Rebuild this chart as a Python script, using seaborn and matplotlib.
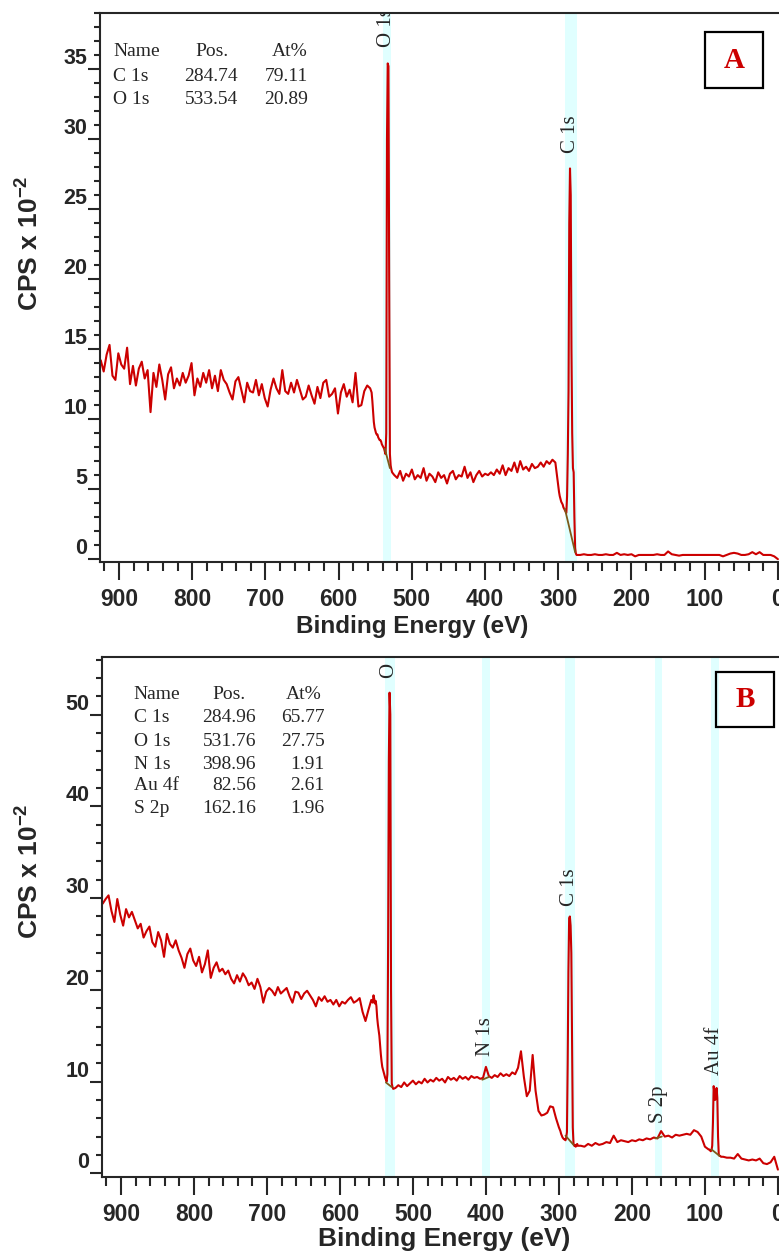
import numpy as np
import pandas as pd
import seaborn as sns
import matplotlib
import matplotlib.pyplot as plt
from matplotlib.patches import Rectangle
from matplotlib.ticker import MultipleLocator

matplotlib.use("Agg")

# ---------------- spectrum A (CPS x 10^-2)
a_wide = [14.2, 13.4, 14.6, 15.3, 13.1, 12.8, 14.7, 13.9, 13.6, 15.1,
          12.5, 13.8, 12.4, 13.6, 14.1, 12.9, 13.5, 10.5, 13.3, 12.3,
          13.9, 12.8, 11.4, 13.2, 13.7, 12.2, 12.9, 12.4, 13.3, 12.6,
          13.1, 14.0, 11.7, 12.9, 12.3, 13.3, 12.6, 13.5, 12.2, 13.1,
          12.0, 13.5, 12.8, 12.5, 11.9, 11.4, 12.7, 13.0, 12.1, 11.2,
          12.6, 12.0, 11.9, 12.8, 11.7, 12.5, 11.5, 10.9, 12.1, 12.9,
          12.2, 11.8, 13.5, 12.0, 11.8, 12.6, 11.9, 12.8, 12.1, 11.4,
          11.6, 12.4, 11.7, 11.1, 12.3, 11.5, 12.6, 12.8, 11.6, 11.8,
          12.2, 10.4, 11.9, 12.5, 11.6, 12.1, 11.2, 13.3, 10.9, 11.0,
          12.0, 12.4, 12.2]                      # 925 -> 557 eV
a_o1s = [11.9, 11.3, 10.5, 9.8, 9.4, 9.2, 9.0, 8.9, 8.9, 8.7,
         8.6, 8.5, 8.5, 8.4, 8.2, 8.1, 8.0, 7.9, 7.7, 7.5,
         9.0, 30.0, 35.4, 35.2, 20.0, 7.5, 6.7, 6.4, 6.2]   # 555 -> 527 eV
a_mid = [6.0, 5.8, 6.3, 5.6, 6.1, 5.9, 6.4, 5.7, 6.0, 5.8,
         6.5, 5.6, 6.1, 5.9, 5.5, 6.2, 5.8, 6.0, 5.4, 6.1,
         6.3, 5.7, 6.0, 5.9, 6.6, 5.8, 6.2, 5.5, 6.0, 6.3,
         5.9, 6.1, 6.0, 6.2, 6.0, 6.4, 6.1, 6.7, 6.0, 6.5,
         6.3, 6.9, 6.2, 7.0, 6.4, 6.6, 6.3, 6.8, 6.5, 6.6,
         6.9, 6.6, 7.0, 6.8, 7.1, 6.9, 5.2]              # 524 -> 300 eV
a_c1s = [4.8, 4.5, 4.3, 4.1, 4.0, 3.9, 3.7, 3.6, 3.5, 3.4,
         3.3, 4.5, 7.5, 12.0, 24.0, 27.9, 26.0, 15.0, 9.0, 6.5,
         6.2, 3.0, 0.8, 0.4, 0.3, 0.3]                    # 299 -> 274 eV
a_tail = [0.3, 0.35, 0.3, 0.3, 0.35, 0.3, 0.3, 0.35, 0.3, 0.3,
          0.45, 0.3, 0.35, 0.3, 0.35, 0.2, 0.3, 0.3, 0.3, 0.3,
          0.3, 0.35, 0.3, 0.3, 0.55, 0.35, 0.3, 0.25, 0.3, 0.3,
          0.3, 0.3, 0.3, 0.3, 0.3, 0.3, 0.3, 0.3, 0.3, 0.2,
          0.3, 0.4, 0.45, 0.4, 0.3, 0.3, 0.35, 0.5, 0.35, 0.5,
          0.3, 0.3, 0.3, 0.2, 0.0]                        # 270 -> 0 eV
a_segments = [(925, 557, a_wide), (555, 527, a_o1s), (524, 300, a_mid),
              (299, 274, a_c1s), (270, 0, a_tail)]

# ---------------- spectrum B
b_wide = [29.4, 29.9, 30.3, 28.6, 27.4, 29.9, 28.2, 27.0, 28.8, 27.9,
          28.5, 27.6, 26.7, 27.2, 25.7, 26.4, 26.9, 25.2, 24.7, 26.3,
          25.4, 23.6, 26.1, 25.0, 24.6, 25.4, 24.3, 23.5, 22.4, 23.9,
          24.5, 23.2, 22.6, 23.6, 21.9, 22.8, 24.3, 21.3, 22.4, 23.0,
          22.0, 22.3, 21.7, 22.1, 21.2, 20.7, 21.6, 20.9, 21.8, 21.3,
          20.5, 20.8, 20.1, 21.2, 20.3, 18.6, 19.8, 20.2, 19.9, 19.4,
          20.3, 19.6, 19.9, 20.2, 19.3, 18.6, 19.8, 19.7, 19.0, 19.6,
          19.9, 19.4, 18.9, 18.2, 19.2, 18.8, 19.3, 18.7, 18.9, 18.4,
          18.9, 18.2, 18.7, 18.5, 18.9, 19.2, 18.6, 18.8, 19.1, 17.6,
          16.6, 17.8, 18.9]                      # 925 -> 557 eV
b_o1s = [18.6, 19.4, 19.0, 18.5, 18.8, 18.2, 17.0, 16.2, 15.6, 15.0,
         14.0, 13.0, 12.2, 11.6, 11.3, 11.0, 10.7, 10.4, 10.2, 10.0,
         10.8, 25.0, 45.0, 52.4, 50.0, 20.0, 9.8, 9.4, 9.2]  # 555 -> 527 eV
b_mid = [9.3, 9.6, 9.4, 9.9, 9.5, 9.8, 10.1, 9.7, 10.0, 9.8,
         10.3, 9.9, 10.2, 10.0, 10.4, 10.1, 10.3, 9.9, 10.5, 10.2,
         10.4, 10.1, 10.6, 10.3, 10.5, 10.2, 10.6, 10.4, 10.5, 10.3,
         10.4, 11.6, 10.6, 10.4, 10.7, 10.5, 10.9, 10.6, 10.8, 10.6,
         11.0, 10.8, 11.5, 13.3, 10.5, 8.4, 9.0, 12.9, 9.0, 6.8,
         6.3, 6.4, 6.6, 7.3, 7.2, 6.0, 5.0]               # 524 -> 300 eV
b_c1s = [4.8, 4.6, 4.3, 4.1, 3.9, 3.8, 3.7, 3.7, 3.6, 3.9,
         4.5, 12.0, 22.0, 27.8, 28.0, 27.0, 24.0, 15.0, 5.0, 3.2,
         3.0, 3.1, 2.9, 3.0, 3.2, 3.0]                    # 299 -> 274 eV
b_low = [3.0, 2.9, 3.2, 3.0, 3.3, 3.1, 3.2, 3.4, 3.3, 4.1,
         3.4, 3.6, 3.5, 3.4, 3.6, 3.5, 3.7, 3.6, 3.8, 3.7,
         3.9, 3.8, 4.6, 4.0, 4.1, 3.9, 4.2, 4.1, 4.2, 4.3,
         4.2, 4.7, 4.5, 4.0, 2.9, 2.6]                    # 270 -> 95 eV
b_au4f = [2.6, 2.5, 2.4, 2.5, 3.0, 5.5, 9.5, 8.8, 8.0, 8.6,
          9.3, 8.2, 4.0, 2.0, 1.9, 1.9, 1.8]              # 94 -> 78 eV
b_tail = [1.8, 1.7, 1.7, 1.6, 2.1, 1.6, 1.5, 1.4, 1.5, 1.4,
          1.6, 1.1, 1.0, 1.2, 1.8, 0.4]                   # 75 -> 0 eV
b_segments = [(925, 557, b_wide), (555, 527, b_o1s), (524, 300, b_mid),
              (299, 274, b_c1s), (270, 95, b_low), (94, 78, b_au4f),
              (75, 0, b_tail)]

# peak regions, background end points (BE, CPS) and labels
a_band_names = ["O 1s", "C 1s"]
a_band_lo = [528, 275]
a_band_hi = [540, 291]
a_label_y = [36.6, 29.0]
a_bg = [((537, 7.9), (530, 6.5)), ((291, 3.6), (277, 0.5))]

b_band_names = ["O 1s", "N 1s", "C 1s", "S 2p", "Au 4f"]
b_band_lo = [525, 395, 278, 159, 81]
b_band_hi = [538, 405, 292, 169, 92]
b_label_y = [54.0, 12.8, 29.1, 5.5, 10.7]
b_bg = [((537, 9.9), (529, 9.4)), ((405, 10.2), (396, 10.5)),
        ((291, 4.1), (280, 3.1)), ((168, 3.8), (159, 4.0)),
        ((91, 2.6), (80, 1.9))]

# quantification tables
a_names = ["C 1s", "O 1s"]
a_pos = ["284.74", "533.54"]
a_at = ["79.11", "20.89"]
b_names = ["C 1s", "O 1s", "N 1s", "Au 4f", "S 2p"]
b_pos = ["284.96", "531.76", "398.96", "82.56", "162.16"]
b_at = ["65.77", "27.75", "1.91", "2.61", "1.96"]

RED = "#cc0000"
BG = "#7d5a1a"
BAND = "#e0ffff"

sns.set_style("ticks")
plt.rcParams["font.family"] = ["Liberation Sans", "DejaVu Sans"]
plt.rcParams["mathtext.fontset"] = "custom"
plt.rcParams["mathtext.rm"] = "Liberation Sans"
plt.rcParams["mathtext.bf"] = "Liberation Sans:bold"
SERIF = ["Liberation Serif", "DejaVu Serif"]


def build_df(segments):
    parts = []
    for start, stop, vals in segments:
        parts.append(pd.DataFrame({"be": np.linspace(start, stop, len(vals)),
                                   "cps": vals}))
    return pd.concat(parts, ignore_index=True)


def draw_panel(ax, segments, names, lo, hi, label_y, bg, ylim, ymajor, yminor,
               tab_names, tab_pos, tab_at, tab_x, tab_y, letter, box,
               xlabel_pos, xlabel_size, ylabel_pos):
    df = build_df(segments)
    for n, l, h, ly in zip(names, lo, hi, label_y):
        ax.axvspan(l, h, color=BAND, lw=0, zorder=0)
        ax.text((l + h) / 2, ly, n, rotation=90, ha="center", va="bottom",
                family=SERIF, fontsize=15, clip_on=True, zorder=4)
    sns.lineplot(data=df, x="be", y="cps", ax=ax, color=RED, lw=1.5,
                 estimator=None, sort=False, zorder=2)
    for (x0, y0), (x1, y1) in bg:
        ax.plot([x0, x1], [y0, y1], color=BG, lw=1.3, zorder=3)

    ax.set_xlim(926, -1.5)
    ax.set_ylim(*ylim)
    ax.xaxis.set_major_locator(MultipleLocator(100))
    ax.xaxis.set_minor_locator(MultipleLocator(20))
    ax.yaxis.set_major_locator(MultipleLocator(ymajor))
    ax.yaxis.set_minor_locator(MultipleLocator(yminor))
    ax.tick_params(axis="x", which="major", direction="out", length=13,
                   width=1.5, pad=6, labelsize=16.5)
    ax.tick_params(axis="x", which="minor", direction="out", length=6.5,
                   width=1.5)
    ax.tick_params(axis="y", which="major", direction="out", length=9,
                   width=1.5, pad=0, labelsize=15.5)
    ax.tick_params(axis="y", which="minor", direction="out", length=4.5,
                   width=1.5)
    for lab in ax.get_xticklabels() + ax.get_yticklabels():
        lab.set_fontweight("bold")
    for lab in ax.get_yticklabels():
        lab.set_verticalalignment("bottom")
    for side in ["left", "bottom", "top"]:
        ax.spines[side].set_linewidth(1.5)
    ax.spines["right"].set_visible(False)

    ax.set_xlabel("Binding Energy (eV)", fontsize=xlabel_size,
                  fontweight="bold")
    ax.xaxis.set_label_coords(*xlabel_pos)
    ax.set_ylabel(r"CPS x 10$^{\mathbf{-2}}$", fontsize=19,
                  fontweight="bold")
    ax.yaxis.set_label_coords(*ylabel_pos)

    # quantification table
    x_name, x_pos_h, x_pos, x_at_h, x_at = tab_x
    ax.text(x_name, tab_y[0], "Name", transform=ax.transAxes, family=SERIF,
            fontsize=14, va="center", ha="left")
    ax.text(x_pos_h, tab_y[0], "Pos.", transform=ax.transAxes, family=SERIF,
            fontsize=14, va="center", ha="right")
    ax.text(x_at_h, tab_y[0], "At%", transform=ax.transAxes, family=SERIF,
            fontsize=14, va="center", ha="right")
    for yy, n, p, a in zip(tab_y[1:], tab_names, tab_pos, tab_at):
        ax.text(x_name, yy, n, transform=ax.transAxes, family=SERIF,
                fontsize=14, va="center", ha="left")
        ax.text(x_pos, yy, p, transform=ax.transAxes, family=SERIF,
                fontsize=14, va="center", ha="right")
        ax.text(x_at, yy, a, transform=ax.transAxes, family=SERIF,
                fontsize=14, va="center", ha="right")

    bx, by, bw, bh = box
    ax.add_patch(Rectangle((bx, by), bw, bh, transform=ax.transAxes,
                           fill=False, ec="black", lw=1.6, zorder=5))
    ax.text(bx + bw / 2, by + bh / 2, letter, transform=ax.transAxes,
            family=SERIF, fontsize=21, fontweight="bold", color=RED,
            ha="center", va="center", zorder=6)


fig = plt.figure(figsize=(7.79, 12.51), dpi=100)
ax_a = fig.add_axes([0.1284, 0.5508, 0.8716, 0.4388])
ax_b = fig.add_axes([0.1309, 0.0592, 0.8691, 0.4157])

draw_panel(ax_a, a_segments, a_band_names, a_band_lo, a_band_hi, a_label_y,
           a_bg, (-0.2, 39.0), 5, 1,
           a_names, a_pos, a_at,
           (0.019, 0.189, 0.203, 0.305, 0.306),
           [0.929, 0.885, 0.843],
           "A", (0.891, 0.863, 0.0854, 0.102),
           (0.46, -0.096), 17.5, (-0.084, 0.58))

draw_panel(ax_b, b_segments, b_band_names, b_band_lo, b_band_hi, b_label_y,
           b_bg, (-0.4, 56.3), 10, 2,
           b_names, b_pos, b_at,
           (0.047, 0.2127, 0.2275, 0.325, 0.329),
           [0.927, 0.883, 0.838, 0.794, 0.752, 0.708],
           "B", (0.907, 0.865, 0.0857, 0.106),
           (0.505, -0.097), 19, (-0.087, 0.587))

fig.savefig("out.png", dpi=100)
